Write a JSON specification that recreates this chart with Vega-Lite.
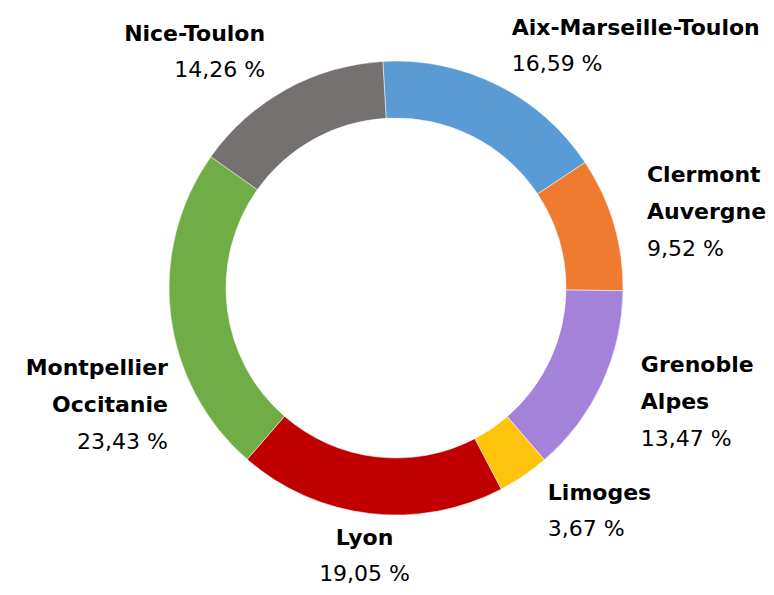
{
  "$schema": "https://vega.github.io/schema/vega-lite/v6.json",
  "width": 756,
  "height": 576,
  "autosize": "none",
  "padding": {"left": 18, "right": 0, "top": 0, "bottom": 19},
  "background": "white",
  "view": {"stroke": null},
  "data": {
    "values": [
      {"name": "Aix-Marseille-Toulon", "value": 16.59, "pct": "16,59 %"},
      {"name": "Clermont\nAuvergne", "value": 9.52, "pct": "9,52 %"},
      {"name": "Grenoble\nAlpes", "value": 13.47, "pct": "13,47 %"},
      {"name": "Limoges", "value": 3.67, "pct": "3,67 %"},
      {"name": "Lyon", "value": 19.05, "pct": "19,05 %"},
      {"name": "Montpellier\nOccitanie", "value": 23.43, "pct": "23,43 %"},
      {"name": "Nice-Toulon", "value": 14.26, "pct": "14,26 %"}
    ]
  },
  "encoding": {
    "theta": {"field": "value", "type": "quantitative", "stack": true, "scale": {"range": [-0.058, 6.2252]}},
    "order": {"field": "name", "type": "nominal"}
  },
  "layer": [
    {
      "mark": {"type": "arc", "innerRadius": 170, "outerRadius": 227, "stroke": "white", "strokeWidth": 0.5},
      "encoding": {
        "color": {
          "field": "name",
          "type": "nominal",
          "legend": null,
          "scale": {
            "domain": ["Aix-Marseille-Toulon", "Clermont\nAuvergne", "Grenoble\nAlpes", "Limoges", "Lyon", "Montpellier\nOccitanie", "Nice-Toulon"],
            "range": ["#5b9bd5", "#ee7b30", "#a482d9", "#fec40c", "#c00000", "#70ad47", "#767171"]
          }
        }
      }
    },
    {
      "mark": {
        "type": "text",
        "radius": 270,
        "font": "DejaVu Sans",
        "fontWeight": "bold",
        "fontSize": 22,
        "lineBreak": "\n",
        "lineHeight": 37,
        "baseline": "bottom",
        "color": "black",
        "align": {"expr": "datum.name == 'Lyon' ? 'center' : ((datum.name == 'Nice-Toulon' || indexof(datum.name, 'Montpellier') == 0) ? 'right' : 'left')"},
        "dx": {"expr": "indexof(datum.name, 'Montpellier') == 0 ? 40 : (datum.name == 'Aix-Marseille-Toulon' ? -5 : (indexof(datum.name, 'Clermont') == 0 ? -8 : 0))"},
        "dy": {"expr": "indexof(datum.name, 'Montpellier') == 0 ? 60 : (indexof(datum.name, '\\n') >= 0 ? -25 : -6)"}
      },
      "encoding": {
        "detail": {"field": "name", "type": "nominal"},
        "text": {"field": "name", "type": "nominal"}
      }
    },
    {
      "mark": {
        "type": "text",
        "radius": 270,
        "font": "DejaVu Sans",
        "fontSize": 22,
        "baseline": "top",
        "color": "black",
        "align": {"expr": "datum.name == 'Lyon' ? 'center' : ((datum.name == 'Nice-Toulon' || indexof(datum.name, 'Montpellier') == 0) ? 'right' : 'left')"},
        "dx": {"expr": "indexof(datum.name, 'Montpellier') == 0 ? 40 : (datum.name == 'Aix-Marseille-Toulon' ? -5 : (indexof(datum.name, 'Clermont') == 0 ? -8 : 0))"},
        "dy": {"expr": "indexof(datum.name, 'Montpellier') == 0 ? 112 : (indexof(datum.name, '\\n') >= 0 ? 27 : 8)"}
      },
      "encoding": {
        "detail": {"field": "name", "type": "nominal"},
        "text": {"field": "pct", "type": "nominal"}
      }
    }
  ]
}
